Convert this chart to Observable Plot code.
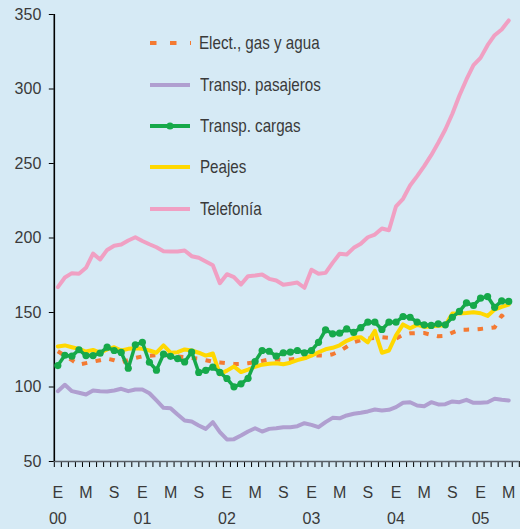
<!DOCTYPE html>
<html><head><meta charset="utf-8">
<script src="https://cdn.jsdelivr.net/npm/d3@7"></script>
<script src="https://cdn.jsdelivr.net/npm/@observablehq/plot@0.6"></script>
<style>
html,body{margin:0;padding:0;background:#d6eaf5;}
#wrap{position:relative;width:520px;height:529px;overflow:hidden;font-family:"Liberation Sans",Arial,sans-serif;}
.row{position:absolute;left:150px;height:22px;display:flex;align-items:center;white-space:nowrap;font-size:18.5px;color:#3a3a3a;}
.row svg{margin-right:8.7px;display:block;}
.row span{display:inline-block;transform:scaleX(0.82);transform-origin:0 50%;}
</style></head><body><div id="wrap"></div>
<script>
// Monthly index: 0 = Jan 2000 ... 64 = May 2005
const months = d3.range(65);
const monthLetters = ["E", "M", "S"];
const yearLabels = ["00", "01", "02", "03", "04", "05"];
const yTicks = [50, 100, 150, 200, 250, 300, 350];

const electricidad = [124,121,118,115,116,117,118,119,118,116.5,118,119.5,120.5,121,121.3,121.5,121,120.5,120,119.5,119,118,117,116.5,116,115.5,115.5,116,116.6,117.5,118.5,118.5,118,118.5,119,119.5,121,121.2,121,122,124,127,130,131.5,132.5,133,133.5,133,132.5,135,136,136.2,136.2,135,134,134.3,136.5,138.4,138.5,138.6,139,139.5,140,148,143];
const pasajeros = [97.2,101.5,97.2,96.1,95,97.7,97.2,97,97.7,98.8,97.2,98.3,98.3,95.8,91,86,85.8,81.5,77.5,76.8,74.2,71.9,76.4,69.7,64.8,65,67.4,70.1,72.3,70.1,71.9,72.3,73,73,73.7,75.7,74.6,73,76.4,79.3,79,80.9,82,82.7,83.6,84.9,84.2,84.7,86.5,89.4,89.8,87.6,87.1,89.8,88.3,88.5,90.3,89.8,91.4,89.4,89.4,89.8,92.1,91.4,91];
const cargas = [114.4,121.3,120.7,125,121.1,121.1,122.7,126.7,124.5,123.2,112.6,128.3,130,116.6,111.3,122,120.6,119.1,116.8,123.5,109.8,111.2,113.3,109.8,105.7,100.1,102.1,105.8,117.1,124.5,124,120.7,123,123.4,124.5,123,124.5,130,138.4,135.7,136.1,139,136.6,139.8,143.5,143.5,138.6,143.5,143.5,147.3,146.8,143.5,141.7,141.3,142.4,141.7,146.8,150.7,156.5,154.7,159.6,160.7,153.5,157.8,157.4];
const peajes = [127.2,127.9,126.7,125.6,123.8,124.9,123,125.2,126.7,124.5,125.6,126,125.6,124.5,123,127.9,123,123.4,125.2,124.5,123,121.1,122.5,108.5,111,113.8,110,111.7,113.6,115,115.6,116,115.3,116.3,118,119.3,121,123.3,125.3,126.3,128,131,133,133.4,130,137.7,123,124.5,134.6,142,139.4,141.7,140.3,140.7,141.1,141.5,149.3,149.3,149.6,150.2,149.5,147.7,152,153.8,155.3];
const telefonia = [167,173.5,176.4,176,180,189.5,185.6,192,194.8,195.6,198.3,200.5,198,195.8,193.8,191.1,190.9,190.9,191.6,187.8,186.7,184.2,181.7,169.7,175.7,173.7,168.8,174.4,174.8,175.5,172.6,171.5,168.6,169.3,170.1,166.6,178.7,176,176.6,183.3,189.4,188.9,193.4,196.1,200.5,202.3,206.4,205.2,221.3,226.3,235.2,241.5,248.2,255.6,263.9,272.8,283.4,295.6,306.4,316,320.9,329.4,336.1,339.9,346];

const seriesNames = ["Elect., gas y agua", "Transp. pasajeros", "Transp. cargas", "Peajes", "Telefonía"];
const colors = ["#f47a32", "#b09fd0", "#16a94a", "#ffd800", "#f0a0c3"];

const toRows = arr => months.map(i => ({m: i, v: arr[i]}));
const font = '"Liberation Sans",Arial,sans-serif';

const tickBounds = d3.range(-0.5, 66, 1);
const labelIdx = months.filter(i => i % 4 === 0);
const yearIdx = months.filter(i => i % 12 === 0);

const chart = Plot.plot({
  width: 520, height: 529,
  marginLeft: 53.8, marginRight: 1.2, marginTop: 14, marginBottom: 68,
  style: {background: "transparent", fontFamily: font, fontSize: "16px", color: "#3a3a3a", overflow: "visible"},
  x: {domain: [-0.5, 65.5], axis: null},
  y: {domain: [50, 350], axis: null},
  marks: [
    Plot.axisY({ticks: yTicks, tickSize: 5, tickPadding: 8, tickFormat: d => String(d), stroke: "#000", label: null, fontSize: 16}),
    Plot.axisX({ticks: tickBounds, tickSize: 6, tickFormat: () => "", stroke: "#000", label: null}),
    Plot.axisX({ticks: labelIdx, tickSize: 0, tickPadding: 25.5, tickFormat: i => monthLetters[(i % 12) / 4], label: null, fontSize: 16}),
    Plot.axisX({ticks: yearIdx, tickSize: 0, tickPadding: 51.5, tickFormat: i => yearLabels[i / 12], label: null, fontSize: 16}),
    Plot.ruleY([50], {stroke: "#5a6068", strokeWidth: 1.6}),
    Plot.ruleX([-0.5], {stroke: "#000", strokeWidth: 1.6}),
    Plot.line(toRows(electricidad), {x: "m", y: "v", stroke: colors[0], strokeWidth: 4, strokeDasharray: "5.5,8.5", strokeLinecap: "butt"}),
    Plot.line(toRows(pasajeros), {x: "m", y: "v", stroke: colors[1], strokeWidth: 4}),
    Plot.line(toRows(telefonia), {x: "m", y: "v", stroke: colors[4], strokeWidth: 4}),
    Plot.line(toRows(peajes), {x: "m", y: "v", stroke: colors[3], strokeWidth: 4}),
    Plot.line(toRows(cargas), {x: "m", y: "v", stroke: colors[2], strokeWidth: 3.5}),
    Plot.dot(toRows(cargas), {x: "m", y: "v", fill: colors[2], r: 3.6})
  ]
});

const wrap = document.getElementById("wrap");
wrap.appendChild(chart);

const rowCenters = [43.2, 84.5, 125.8, 167.2, 208.5];
seriesNames.forEach((name, k) => {
  const row = document.createElement("div");
  row.className = "row";
  row.style.top = (rowCenters[k] - 11) + "px";
  let sw = `<svg width="41" height="12" viewBox="0 0 41 12">`;
  if (k === 0) sw += `<line x1="0" y1="6" x2="41" y2="6" stroke="${colors[0]}" stroke-width="4" stroke-dasharray="6.5,13.5"/>`;
  else sw += `<line x1="0" y1="6" x2="40" y2="6" stroke="${colors[k]}" stroke-width="4"/>`;
  if (k === 2) sw += `<circle cx="20" cy="6" r="3.6" fill="${colors[2]}"/>`;
  sw += `</svg>`;
  row.innerHTML = sw + `<span>${name}</span>`;
  if (k === 0) row.querySelector("svg").style.marginRight = "7.7px";
  wrap.appendChild(row);
});
</script>
</body></html>
